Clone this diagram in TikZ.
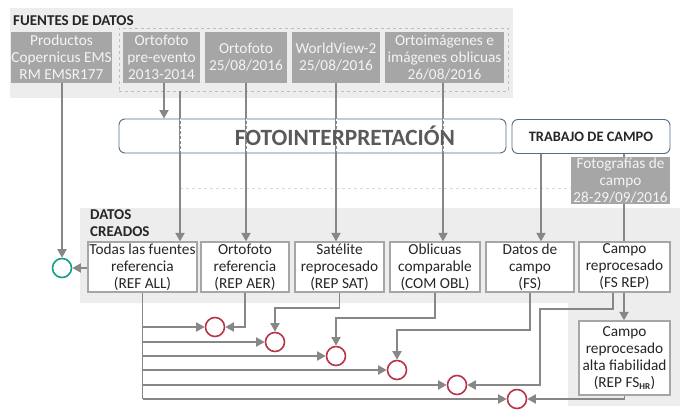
\documentclass[tikz,border=0pt]{standalone}
\usepackage{fontspec}
\setmainfont{Carlito}
\usetikzlibrary{arrows.meta}
\definecolor{srcgray}{HTML}{A6A6A6}
\definecolor{srctext}{HTML}{F4F4F4}
\definecolor{panelgray}{HTML}{EDEDED}
\definecolor{dashgray}{HTML}{BFBFBF}
\definecolor{linegray}{HTML}{878787}
\definecolor{boxborder}{HTML}{A6A6A6}
\definecolor{blueborder}{HTML}{4E6E8E}
\definecolor{titletext}{HTML}{5A5A5A}
\definecolor{darktext}{HTML}{262626}
\definecolor{greenc}{HTML}{17A088}
\definecolor{redc}{HTML}{B8364A}
\tikzset{
  srcbox/.style={fill=srcgray, text=srctext, inner sep=0pt, align=center,
    font=\fontsize{15.3}{17}\selectfont},
  madebox/.style={draw=boxborder, line width=1.2pt, fill=white, text=darktext, inner sep=0pt,
    align=center, font=\fontsize{15.3}{17}\selectfont},
  panel/.style={fill=panelgray, draw=none},
  ln/.style={draw=linegray, line width=1.8pt},
  arr/.style={ln, -{Triangle[length=8.5pt,width=9pt]}},
  circg/.style={circle, draw=greenc, line width=1.6pt, minimum size=19pt, inner sep=0pt},
  circr/.style={circle, draw=redc, line width=1.6pt, minimum size=19pt, inner sep=0pt},
  heading/.style={font=\fontsize{15}{17}\selectfont\bfseries, text=darktext, inner sep=0pt, align=left},
  overlay/.style={draw=white, line width=0.9pt, dash pattern=on 2pt off 3pt},
}
\begin{document}
\begin{tikzpicture}[x=1pt,y=-1pt]
\useasboundingbox (0,0) rectangle (691,420);
% panels
\path[panel] (10,8) rectangle (513,98);
\path[panel] (80,208) -- (680,208) -- (680,406) -- (568,406) -- (568,303) -- (80,303) -- cycle;
\node[heading, anchor=west] (fdt) at (13,20.5) {FUENTES DE DATOS};
\node[heading, anchor=north west] (dcr) at (90,209) {DATOS\\CREADOS};
% dashed group
\node[draw=dashgray, dashed, line width=0.8pt, minimum width=389pt, minimum height=63pt, inner sep=0pt] (grp) at (313.5,59.5) {};
% source boxes
\node[srcbox, minimum width=99pt, minimum height=51pt] (prod) at (61.5,57.5) {Productos\\Copernicus EMS\\RM EMSR177};
\node[srcbox, minimum width=77pt, minimum height=51pt] (pre) at (161.5,57.5) {Ortofoto\\pre-evento\\2013-2014};
\node[srcbox, minimum width=82pt, minimum height=51pt] (orto) at (246,57.5) {Ortofoto\\25/08/2016};
\node[srcbox, minimum width=88pt, minimum height=51pt] (wv) at (336,57.5) {WorldView-2\\25/08/2016};
\node[srcbox, minimum width=119pt, minimum height=51pt] (oi) at (444.5,57.5) {Ortoimágenes e\\imágenes oblicuas\\26/08/2016};
% process boxes
\node[draw=blueborder, line width=0.9pt, rounded corners=6pt, minimum width=387pt, minimum height=34pt, inner sep=0pt] (foto) at (312.5,136) {};
\node[draw=blueborder, line width=0.9pt, rounded corners=6pt, minimum width=158pt, minimum height=34pt, inner sep=0pt, font=\fontsize{14.4}{16}\selectfont\bfseries, text=darktext] (trab) at (591,136.5) {TRABAJO DE CAMPO};
\node[srcbox, minimum width=99pt, minimum height=47pt] (fotc) at (620.5,180.5) {Fotografías de\\campo\\28-29/09/2016};
% faint dashed line
\draw[draw=black!15, line width=0.6pt, dashed] (180,188) -- (fotc.west |- 0,188);
% created boxes
\node[madebox, minimum width=109pt, minimum height=50pt] (refall) at (142.5,267) {Todas las fuentes\\referencia\\(REF ALL)};
\node[madebox, minimum width=88pt, minimum height=50pt] (repaer) at (245,267) {Ortofoto\\referencia\\(REP AER)};
\node[madebox, minimum width=89pt, minimum height=50pt] (repsat) at (339.5,267) {Satélite\\reprocesado\\(REP SAT)};
\node[madebox, minimum width=90pt, minimum height=50pt] (comobl) at (435,267) {Oblicuas\\comparable\\(COM OBL)};
\node[madebox, minimum width=88pt, minimum height=50pt] (fs) at (530,267) {Datos de\\campo\\(FS)};
\node[madebox, minimum width=91pt, minimum height=50pt] (fsrep) at (624.5,267) {Campo\\reprocesado\\(FS REP)};
\node[madebox, minimum width=91pt, minimum height=74pt] (fshr) at (624.5,358) {Campo\\reprocesado\\alta fiabilidad\\(REP FS\textsubscript{\fontsize{9}{9}\selectfont\bfseries HR})};
% circles
\node[circg] (gc) at (62,268) {};
\node[circr] (r1) at (215,327) {};
\node[circr] (r2) at (275,342) {};
\node[circr] (r3) at (336,356) {};
\node[circr] (r4) at (397,370) {};
\node[circr] (r5) at (457,385) {};
\node[circr] (r6) at (517,399) {};
% top connectors
\draw[arr] (prod.south -| gc) -- (gc.north);
\draw[arr] (refall.west |- gc) -- (gc.east);
\draw[arr] (pre.south -| 164,0) -- (foto.north -| 164,0);
\draw[arr] (grp.south -| 180,0) -- (refall.north -| 180,0);
\draw[arr] (orto.south) -- (orto.south |- repaer.north);
\draw[arr] (wv.south) -- (wv.south |- repsat.north);
\draw[arr] (oi.south -| 443,0) -- (comobl.north -| 443,0);
\draw[arr] (trab.south -| 541,0) -- (fs.north -| 541,0);
\draw[ln] (trab.south -| 624,0) -- (fotc.north -| 624,0);
\draw[ln] (fotc.south -| 624,0) -- (fsrep.north -| 624,0);
\draw[arr] (fsrep.south -| 624,0) -- (fshr.north -| 624,0);
% white dotted overlay where lines cross the box
\foreach \xx in {180,246,336,443} {
  \draw[overlay] (foto.north -| \xx,0) -- (foto.south -| \xx,0);
}
\node[font=\fontsize{23.3}{25}\selectfont\bfseries, text=titletext, inner sep=0pt] (fototxt) at (345,136) {FOTOINTERPRETACIÓN};
% bottom connectors
\draw[ln] (refall.south) -- (refall.south |- r6);
\draw[arr] (refall.south |- r1) -- (r1.west);
\draw[arr] (refall.south |- r2) -- (r2.west);
\draw[arr] (refall.south |- r3) -- (r3.west);
\draw[arr] (refall.south |- r4) -- (r4.west);
\draw[arr] (refall.south |- r5) -- (r5.west);
\draw[arr] (refall.south |- r6) -- (r6.west);
\draw[arr] (repaer.south) |- (r1.east);
\draw[arr] (repsat.south) -- (repsat.south |- 0,308) -| (r2.north);
\draw[arr] (comobl.south) -- (comobl.south |- 0,318) -| (r3.north);
\draw[arr] (fs.south) -- (fs.south |- 0,330) -| (r4.north);
\draw[arr] (fsrep.south -| 613,0) -- (613,309) -- (540,309) |- (r5.east);
\draw[arr] (fshr.south) |- (r6.east);
\end{tikzpicture}
\end{document}
